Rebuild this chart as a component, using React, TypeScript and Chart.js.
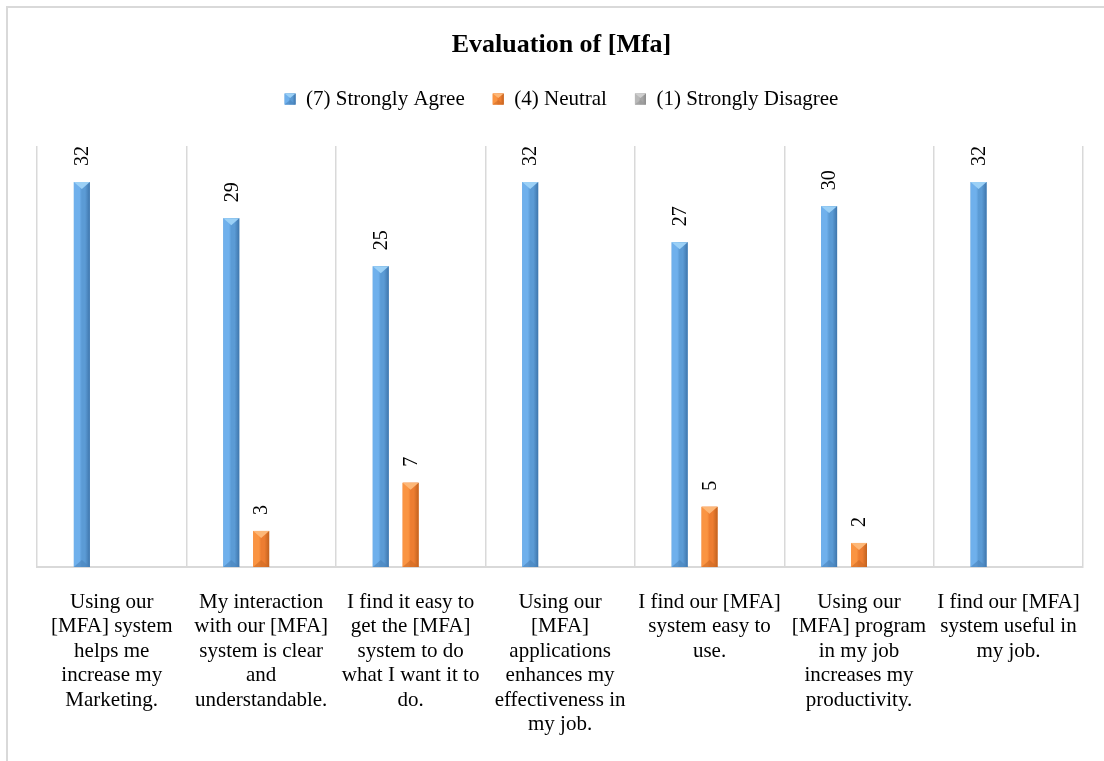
import React, { useEffect, useRef } from 'react';
import { Chart, registerables } from 'chart.js';

Chart.register(...registerables);

// Survey statements (pre-wrapped into lines)
const categories: string[][] = [
  ['Using our', '[MFA] system', 'helps me', 'increase my', 'Marketing.'],
  ['My interaction', 'with our [MFA]', 'system is clear', 'and', 'understandable.'],
  ['I find it easy to', 'get the [MFA]', 'system to do', 'what I want it to', 'do.'],
  ['Using our', '[MFA]', 'applications', 'enhances my', 'effectiveness in', 'my job.'],
  ['I find our [MFA]', 'system easy to', 'use.'],
  ['Using our', '[MFA] program', 'in my job', 'increases my', 'productivity.'],
  ['I find our [MFA]', 'system useful in', 'my job.'],
];

const seriesNames = ['(7) Strongly Agree', '(4) Neutral', '(1) Strongly Disagree'];
const stronglyAgree = [32, 29, 25, 32, 27, 30, 32];
const neutral = [0, 3, 7, 0, 5, 2, 0];
const stronglyDisagree = [0, 0, 0, 0, 0, 0, 0];

const chartTitle = 'Evaluation of [Mfa]';
const yMax = 35;

const SERIF = '"Liberation Serif", "Times New Roman", serif';

type Palette = { base: string; light: string; dark: string; top: string; bottom: string };
const palettes: Palette[] = [
  { base: '#5b9bd5', light: '#6fb0ec', dark: '#3f76ac', top: '#9bd0f6', bottom: '#4a84bd' },
  { base: '#ed7d31', light: '#fa9442', dark: '#c2621f', top: '#fdb777', bottom: '#cf6a24' },
  { base: '#a5a5a5', light: '#b8b8b8', dark: '#8c8c8c', top: '#cfcfcf', bottom: '#979797' },
];

// Beveled look for a rectangular mark
function paintBevel(ctx: CanvasRenderingContext2D, left: number, top: number, w: number, h: number, pal: Palette) {
  if (h <= 0 || w <= 0) return;
  ctx.save();
  const g = ctx.createLinearGradient(left, 0, left + w, 0);
  g.addColorStop(0, pal.light);
  g.addColorStop(0.35, pal.light);
  g.addColorStop(0.5, pal.base);
  g.addColorStop(0.7, pal.base);
  g.addColorStop(1, pal.dark);
  ctx.fillStyle = g;
  ctx.fillRect(left, top, w, h);
  const cap = Math.min(w / 2 - 1, h / 2);
  // top facet
  ctx.fillStyle = pal.top;
  ctx.beginPath();
  ctx.moveTo(left, top);
  ctx.lineTo(left + w, top);
  ctx.lineTo(left + w / 2, top + cap);
  ctx.closePath();
  ctx.fill();
  // bottom facet
  ctx.fillStyle = pal.bottom;
  ctx.globalAlpha = 0.6;
  ctx.beginPath();
  ctx.moveTo(left, top + h);
  ctx.lineTo(left + w, top + h);
  ctx.lineTo(left + w / 2, top + h - cap);
  ctx.closePath();
  ctx.fill();
  ctx.restore();
}

const framePlugin = {
  id: 'outerFrame',
  beforeDraw(chart: any) {
    const ctx = chart.ctx as CanvasRenderingContext2D;
    ctx.save();
    ctx.fillStyle = '#ffffff';
    ctx.fillRect(0, 0, chart.width, chart.height);
    ctx.strokeStyle = '#d9d9d9';
    ctx.lineWidth = 2;
    ctx.strokeRect(7, 7, chart.width + 100, chart.height + 100);
    ctx.restore();
  },
};

const legendSpacer = {
  id: 'legendSpacer',
  beforeLayout(chart: any) {
    const legend = chart.legend;
    if (!legend || legend.__spaced) return;
    const fit = legend.fit;
    legend.fit = function () {
      fit.call(this);
      this.height = 85.4;
    };
    legend.__spaced = true;
  },
};

const barDecor = {
  id: 'barDecor',
  afterDatasetsDraw(chart: any) {
    const ctx = chart.ctx as CanvasRenderingContext2D;
    chart.data.datasets.forEach((ds: any, di: number) => {
      const meta = chart.getDatasetMeta(di);
      if (meta.hidden) return;
      meta.data.forEach((el: any, i: number) => {
        const v = ds.data[i];
        if (!v) return;
        const { x, y, base, width } = el.getProps(['x', 'y', 'base', 'width'], true);
        paintBevel(ctx, x - width / 2, y, width, base - y, palettes[di]);
        // value label, rotated
        ctx.save();
        ctx.translate(x + 1, y - 16);
        ctx.rotate(-Math.PI / 2);
        ctx.font = `20px ${SERIF}`;
        ctx.fillStyle = '#000000';
        ctx.textAlign = 'left';
        ctx.textBaseline = 'middle';
        ctx.fillText(String(v), 0, 0);
        ctx.restore();
      });
    });
  },
  afterDraw(chart: any) {
    const legend = chart.legend;
    if (!legend || !legend.legendHitBoxes) return;
    const ctx = chart.ctx as CanvasRenderingContext2D;
    const fontSize = 21;
    const bw = 11;
    legend.legendHitBoxes.forEach((hb: any, i: number) => {
      const top = hb.top + Math.max((fontSize - bw) / 2, 0);
      paintBevel(ctx, hb.left, top, bw, bw, palettes[i]);
    });
  },
};

export default function App() {
  const canvasRef = useRef<HTMLCanvasElement | null>(null);

  useEffect(() => {
    if (!canvasRef.current) return;
    Chart.defaults.font.family = SERIF;
    Chart.defaults.color = '#000000';

    const chart = new Chart(canvasRef.current, {
      type: 'bar',
      data: {
        labels: categories,
        datasets: [
          { label: seriesNames[0], data: stronglyAgree, backgroundColor: palettes[0].base, borderWidth: 0 },
          { label: seriesNames[1], data: neutral, backgroundColor: palettes[1].base, borderWidth: 0 },
          { label: seriesNames[2], data: stronglyDisagree, backgroundColor: palettes[2].base, borderWidth: 0 },
        ],
      },
      options: {
        animation: false,
        responsive: false,
        maintainAspectRatio: false,
        datasets: {
          bar: { categoryPercentage: 0.6, barPercentage: 0.534 },
        },
        layout: { padding: { left: 37, right: 18, top: 0, bottom: 0 } },
        plugins: {
          title: {
            display: true,
            text: chartTitle,
            color: '#000000',
            font: { family: SERIF, size: 26, weight: 'bold', lineHeight: 1.2 },
            padding: { top: 29.4, bottom: 0 },
          },
          legend: {
            display: true,
            position: 'top',
            labels: {
              boxWidth: 11,
              boxHeight: 11,
              padding: 28,
              color: '#000000',
              font: { family: SERIF, size: 21 },
            },
          },
          tooltip: { enabled: false },
        },
        scales: {
          x: {
            grid: { offset: true, color: '#d9d9d9', lineWidth: 1.5, drawTicks: false },
            border: { display: true, color: '#d9d9d9', width: 2 },
            ticks: {
              autoSkip: false,
              maxRotation: 0,
              minRotation: 0,
              padding: 23,
              color: '#000000',
              font: { family: SERIF, size: 21, lineHeight: 1.167 },
            },
            afterFit(scale: any) {
              scale.height = 194;
            },
          },
          y: {
            display: false,
            min: 0,
            max: yMax,
          },
        },
      },
      plugins: [framePlugin, legendSpacer, barDecor],
    } as any);

    return () => chart.destroy();
  }, []);

  return (
    <div style={{ position: 'absolute', left: 0, top: 0, width: 1104, height: 761, overflow: 'hidden' }}>
      <canvas ref={canvasRef} width={1104} height={761} />
    </div>
  );
}
